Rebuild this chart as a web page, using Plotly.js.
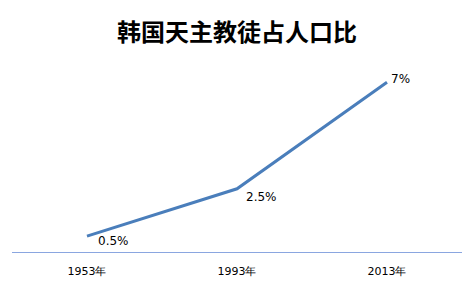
<!DOCTYPE html>
<html><head><meta charset="utf-8">
<script src="https://cdn.plot.ly/plotly-3.0.1.min.js"></script>
<style>html,body{margin:0;padding:0;background:#fff;}#chart{width:474px;height:284px;}</style>
</head><body><div id="chart"></div>
<script>
const categories = ['1953年', '1993年', '2013年'];
const values = [0.5, 2.5, 7];
const labels = ['0.5%', '2.5%', '7%'];
const titleText = '韩国天主教徒占人口比';

const labelShiftX = [9, 7, 2];
const labelShiftY = [-5, -8, 3];

const trace = {
  x: categories, y: values, type: 'scatter', mode: 'lines',
  line: {color: '#4a7ebb', width: 3}, hoverinfo: 'none', cliponaxis: false
};
const annotations = categories.map((c, i) => ({
  x: c, y: values[i], text: labels[i], showarrow: false,
  xanchor: 'left', yanchor: 'middle', xshift: labelShiftX[i], yshift: labelShiftY[i],
  font: {family: 'DejaVu Sans, Verdana, sans-serif', size: 12, color: '#000'}
}));
const layout = {
  width: 474, height: 284,
  margin: {l: 12, r: 12, t: 60, b: 32},
  paper_bgcolor: '#fff', plot_bgcolor: '#fff',
  showlegend: false,
  annotations: annotations,
  title: {text: '<b>' + titleText + '</b>', x: 0.5, xanchor: 'center', y: 0.885, yanchor: 'middle',
    font: {family: 'Noto Sans CJK SC, sans-serif', size: 24, color: '#000'}},
  xaxis: {type: 'category', range: [-0.5, 2.5], showgrid: false, zeroline: false,
    showline: true, linecolor: '#8aa6e0', linewidth: 1.3, ticks: '', ticklabelstandoff: 8,
    tickfont: {family: 'DejaVu Sans, Verdana, sans-serif', size: 11, color: '#000'}},
  yaxis: {range: [-0.17, 7.94], showgrid: false, zeroline: false, showline: false,
    showticklabels: false, ticks: ''}
};
Plotly.newPlot('chart', [trace], layout, {staticPlot: true, displayModeBar: false});
</script></body></html>
